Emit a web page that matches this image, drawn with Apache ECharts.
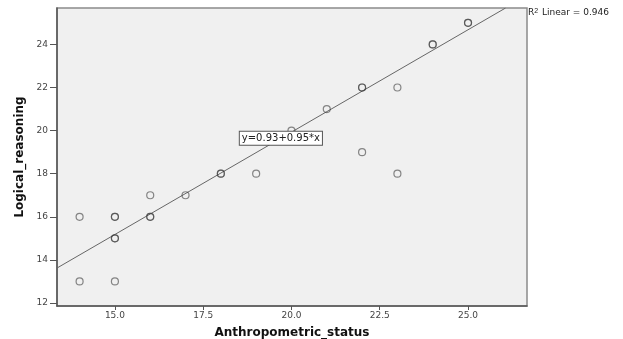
<!DOCTYPE html>
<html>
<head>
<meta charset="utf-8">
<script src="https://cdn.jsdelivr.net/npm/echarts@6/dist/echarts.min.js"></script>
<style>
  html, body { margin: 0; padding: 0; background: #fff; }
  #chart { width: 623px; height: 339px; }
</style>
</head>
<body>
<div id="chart"></div>
<script>
// observed points (duplicates repeated, they show up as bolder circles)
var anthroX = [14, 14, 15, 15, 15, 15, 15, 16, 16, 16, 17, 18, 18, 19, 20, 21, 22, 22, 22, 23, 23, 24, 24, 25, 25];
var logicY  = [16, 13, 16, 16, 15, 15, 13, 17, 16, 16, 17, 18, 18, 18, 20, 21, 22, 22, 19, 22, 18, 24, 24, 25, 25];

// fit line
var intercept = 0.93;
var slope = 0.95;
var rSquared = 0.946;

// tick labels
var xTicks = [15.0, 17.5, 20.0, 22.5, 25.0];
var yTicks = [12, 14, 16, 18, 20, 22, 24];

var xMin = 13.36, xMax = 26.67;
var yMin = 11.86, yMax = 25.69;

var points = [];
for (var i = 0; i < anthroX.length; i++) {
    points.push([anthroX[i], logicY[i]]);
}

// line from left edge until it leaves through the top
var fitLine = [
    [xMin, intercept + slope * xMin],
    [(yMax - intercept) / slope, yMax]
];
var labelX = 19.7;

var myChart = echarts.init(document.getElementById('chart'));
myChart.setOption({
    animation: false,
    grid: {
        left: 57,
        top: 8,
        right: 96,
        bottom: 33,
        outerBoundsMode: 'none',
        show: true,
        backgroundColor: '#f0f0f0',
        borderColor: '#8a8a8a',
        borderWidth: 1.5
    },
    xAxis: {
        type: 'value',
        min: xMin,
        max: xMax,
        name: 'Anthropometric_status',
        nameLocation: 'middle',
        nameGap: 21,
        nameTextStyle: { fontFamily: 'DejaVu Sans', fontWeight: 'bold', fontSize: 12, color: '#111' },
        axisLine: { show: true, lineStyle: { color: '#555', width: 1.5 } },
        axisTick: { show: true, length: 4, customValues: xTicks, lineStyle: { color: '#555' } },
        axisLabel: {
            customValues: xTicks,
            margin: 5,
            fontFamily: 'DejaVu Sans',
            fontSize: 9,
            color: '#444',
            formatter: function (v) { return v.toFixed(1); }
        },
        splitLine: { show: false }
    },
    yAxis: {
        type: 'value',
        min: yMin,
        max: yMax,
        name: 'Logical_reasoning',
        nameLocation: 'middle',
        nameGap: 29,
        nameTextStyle: { fontFamily: 'DejaVu Sans', fontWeight: 'bold', fontSize: 12, color: '#111' },
        axisLine: { show: true, lineStyle: { color: '#555', width: 1.5 } },
        axisTick: { show: true, length: 7, customValues: yTicks, lineStyle: { color: '#555' } },
        axisLabel: {
            customValues: yTicks,
            margin: 9,
            fontFamily: 'DejaVu Sans',
            fontSize: 9,
            color: '#444'
        },
        splitLine: { show: false }
    },
    series: [
        {
            type: 'line',
            data: fitLine,
            symbol: 'none',
            lineStyle: { color: '#666', width: 1 },
            silent: true,
            z: 2,
            markPoint: {
                symbol: 'rect',
                symbolSize: 0,
                data: [{ coord: [labelX, intercept + slope * labelX] }],
                label: {
                    show: true,
                    position: 'inside',
                    formatter: 'y=0.93+0.95*x',
                    fontFamily: 'DejaVu Sans',
                    fontSize: 10,
                    color: '#222',
                    backgroundColor: '#fff',
                    borderColor: '#555',
                    borderWidth: 1,
                    padding: [2, 2, 1, 2]
                }
            }
        },
        {
            type: 'scatter',
            data: points,
            symbol: 'circle',
            symbolSize: 7,
            itemStyle: {
                color: 'rgba(0,0,0,0)',
                borderColor: 'rgba(60,60,60,0.75)',
                borderWidth: 1.2
            },
            z: 3
        }
    ],
    graphic: [
        {
            type: 'text',
            left: 528,
            top: 8,
            style: {
                text: 'R{sup|2} Linear = 0.946',
                rich: { sup: { fontSize: 7, verticalAlign: 'top', padding: [0, 1, 3, 0] } },
                fontFamily: 'DejaVu Sans',
                fontSize: 9,
                fill: '#222'
            }
        }
    ]
});
</script>
</body>
</html>
